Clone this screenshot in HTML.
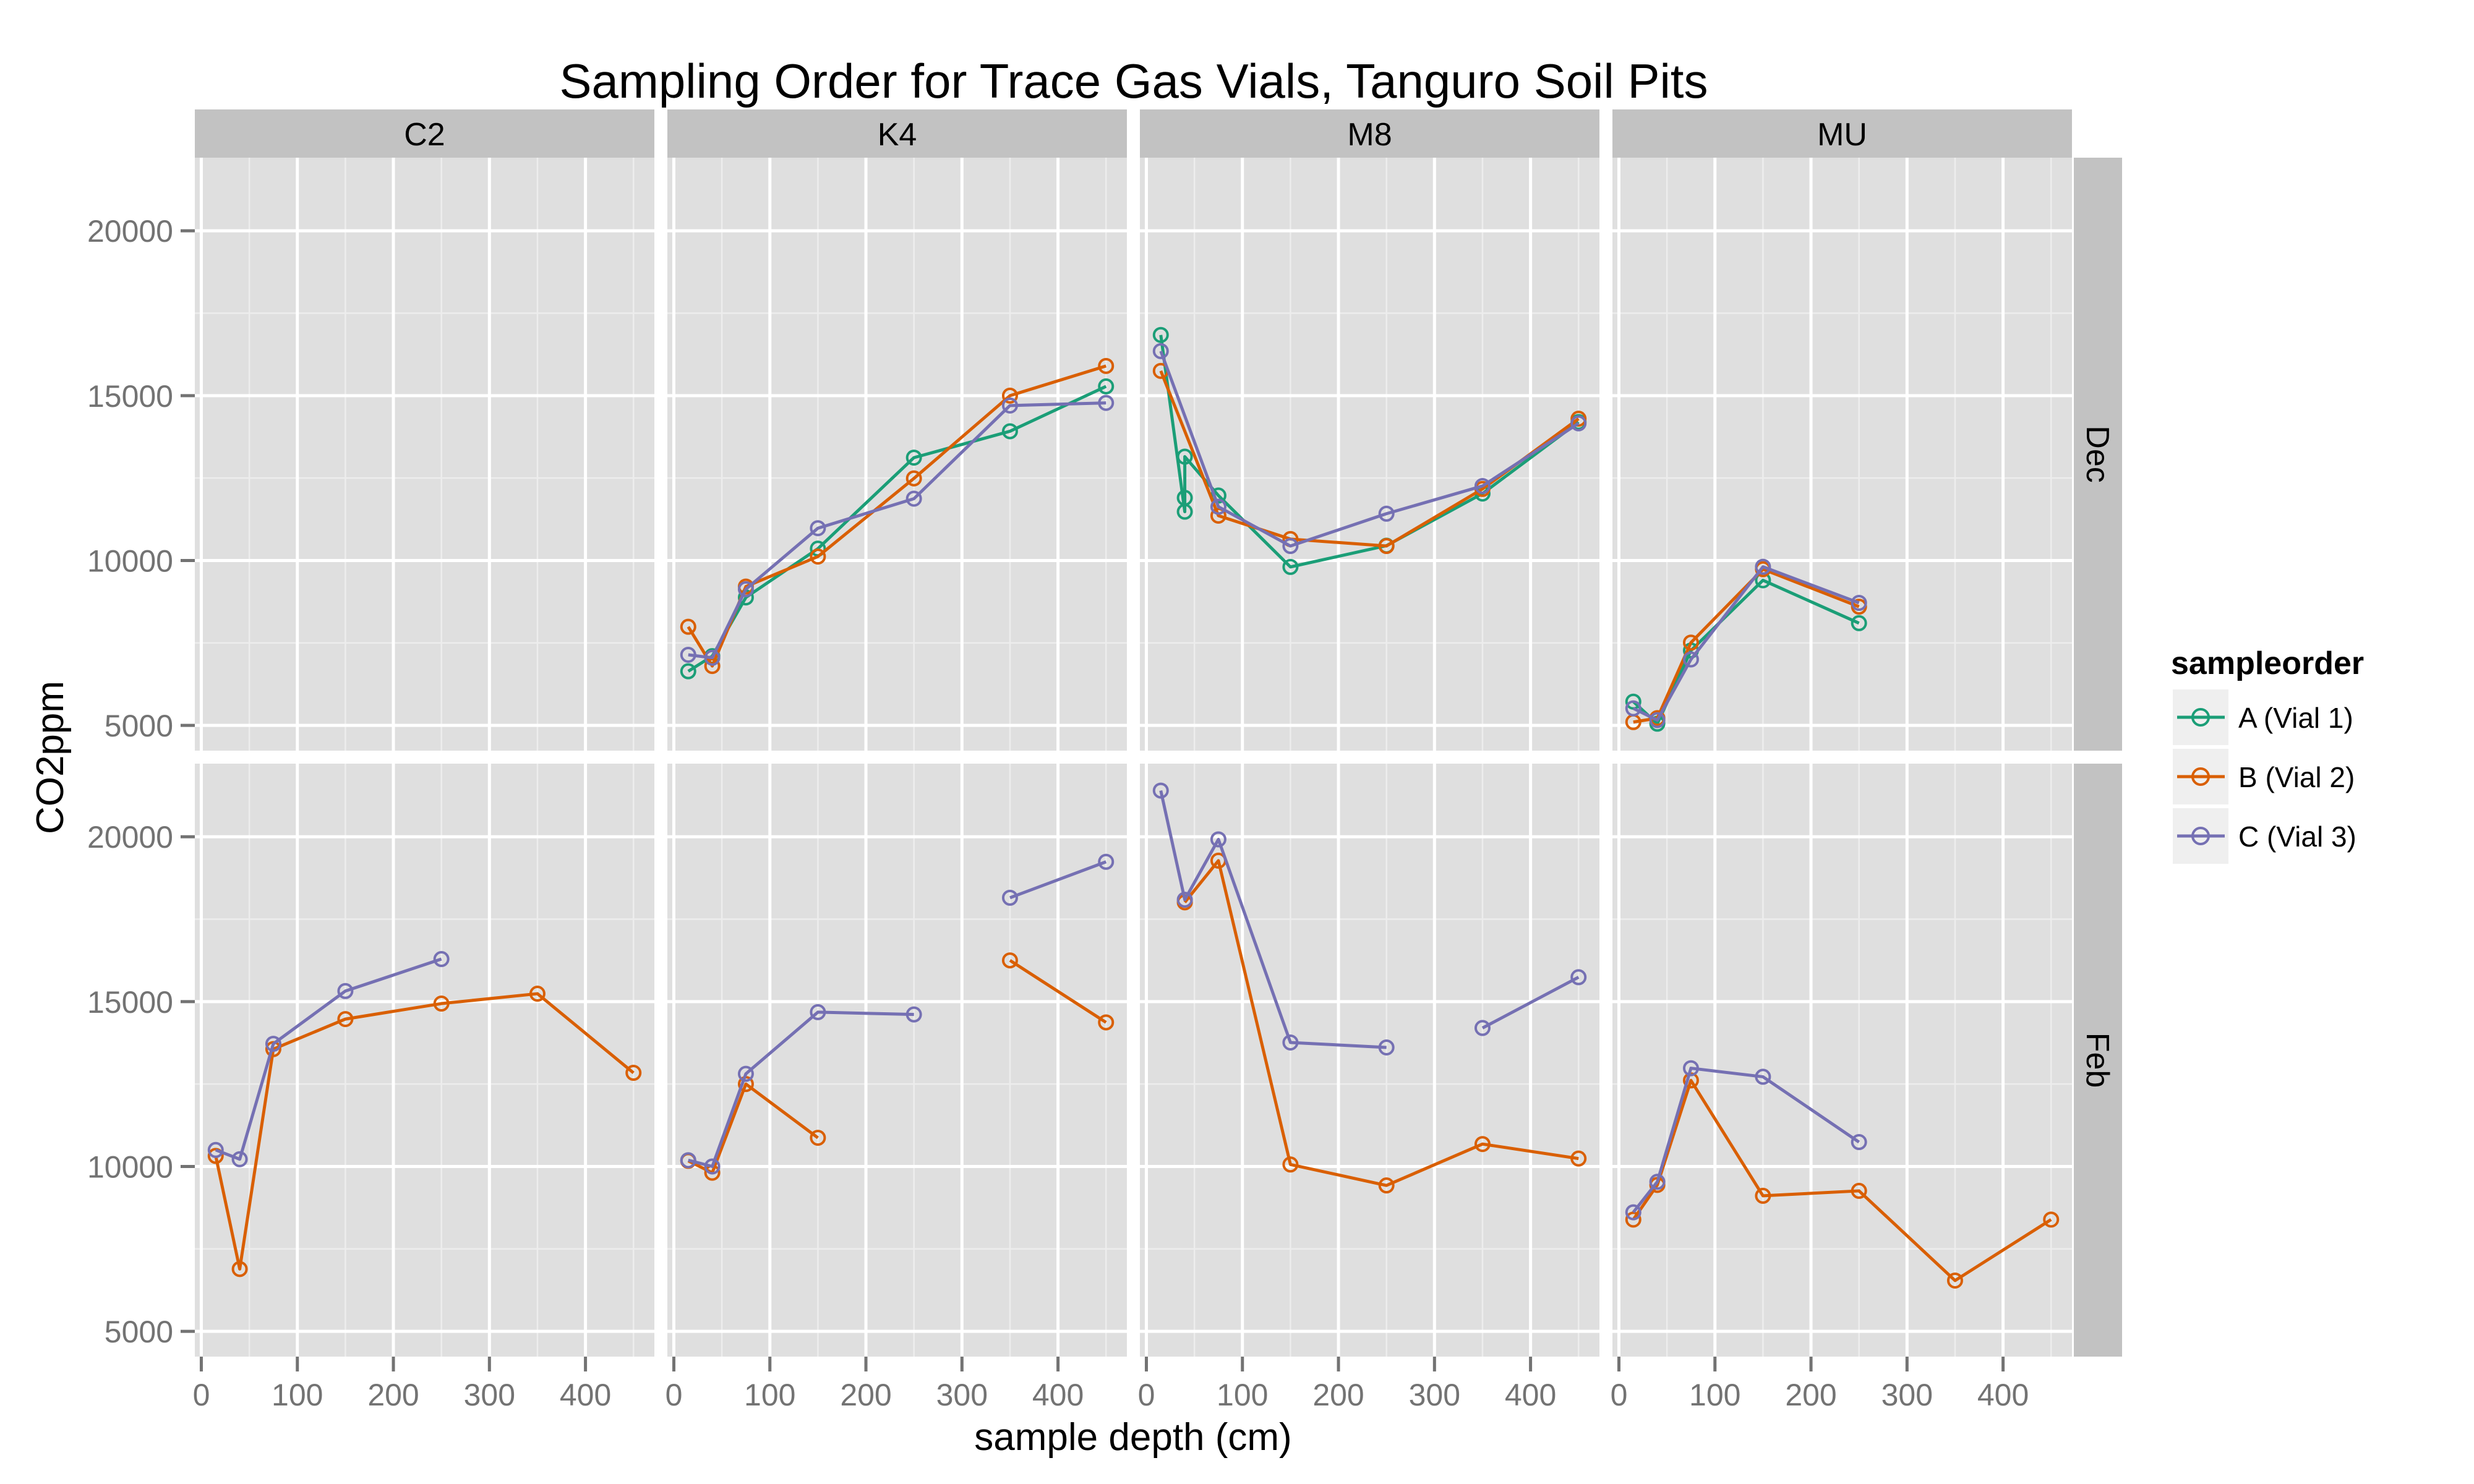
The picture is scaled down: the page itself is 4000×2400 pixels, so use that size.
<!DOCTYPE html>
<html><head><meta charset="utf-8"><style>
html,body{margin:0;padding:0;background:#fff;}
svg{display:block;font-family:"Liberation Sans",Arial,sans-serif;}
</style></head><body>
<svg id="chart" width="4000" height="2400" viewBox="0 0 4000 2400" xmlns="http://www.w3.org/2000/svg">
<text x="1833" y="158" font-size="78" text-anchor="middle" fill="#000">Sampling Order for Trace Gas Vials, Tanguro Soil Pits</text>
<text x="1832" y="2345" font-size="62" text-anchor="middle" fill="#000">sample depth (cm)</text>
<text x="0" y="0" font-size="62" text-anchor="middle" fill="#000" transform="translate(102,1225) rotate(-90)">CO2ppm</text>
<g id="panels"></g>
<g id="legend">
<text x="3510" y="1090" font-size="52" font-weight="bold" fill="#000">sampleorder</text>
</g>
</svg>
<script>
// ---- data ----
const sites = ["C2","K4","M8","MU"];
const months = ["Dec","Feb"];
const xTicks = [0,100,200,300,400];
const yTicks = [5000,10000,15000,20000];
const seriesNames = ["A (Vial 1)","B (Vial 2)","C (Vial 3)"];
const seriesColors = ["#1B9E77","#D95F02","#7570B3"];
// null value = line break
const K4_Dec_A_x = [15,40,75,150,250,350,450];
const K4_Dec_A_y = [6640,7100,8880,10360,13120,13920,15280];
const K4_Dec_B_x = [15,40,75,150,250,350,450];
const K4_Dec_B_y = [7990,6800,9210,10120,12490,15000,15900];
const K4_Dec_C_x = [15,40,75,150,250,350,450];
const K4_Dec_C_y = [7140,7050,9130,10980,11875,14700,14780];
const M8_Dec_A_x = [15,40,40,40,75,150,250,350,450];
const M8_Dec_A_y = [16840,11480,11900,13150,11970,9805,10450,12030,14200];
const M8_Dec_B_x = [15,75,150,250,350,450];
const M8_Dec_B_y = [15750,11360,10650,10440,12170,14300];
const M8_Dec_C_x = [15,75,150,250,350,450];
const M8_Dec_C_y = [16350,11630,10440,11420,12260,14160];
const MU_Dec_A_x = [15,40,75,150,250];
const MU_Dec_A_y = [5720,5050,7270,9400,8100];
const MU_Dec_B_x = [15,40,75,150,250];
const MU_Dec_B_y = [5100,5220,7510,9735,8600];
const MU_Dec_C_x = [15,40,75,150,250];
const MU_Dec_C_y = [5515,5160,7000,9810,8715];
const C2_Feb_B_x = [15,40,75,150,250,350,450];
const C2_Feb_B_y = [10320,6890,13560,14470,14940,15240,12840];
const C2_Feb_C_x = [15,40,75,150,250];
const C2_Feb_C_y = [10500,10220,13720,15320,16290];
const K4_Feb_B_x = [15,40,75,150,250,350,450];
const K4_Feb_B_y = [10170,9810,12500,10870,null,16250,14370];
const K4_Feb_C_x = [15,40,75,150,250,300,350,450];
const K4_Feb_C_y = [10190,10000,12810,14680,14610,null,18150,19240];
const M8_Feb_B_x = [40,75,150,250,350,450];
const M8_Feb_B_y = [18010,19275,10060,9425,10680,10240];
const M8_Feb_C_x = [15,40,75,150,250,300,350,450];
const M8_Feb_C_y = [21400,18090,19920,13760,13610,null,14200,15740];
const MU_Feb_B_x = [15,40,75,150,250,350,450];
const MU_Feb_B_y = [8390,9440,12610,9110,9260,6540,8390];
const MU_Feb_C_x = [15,40,75,150,250];
const MU_Feb_C_y = [8610,9535,12980,12720,10740];
const series = [
 {site:"K4",month:"Dec",s:0,x:K4_Dec_A_x,y:K4_Dec_A_y},
 {site:"K4",month:"Dec",s:1,x:K4_Dec_B_x,y:K4_Dec_B_y},
 {site:"K4",month:"Dec",s:2,x:K4_Dec_C_x,y:K4_Dec_C_y},
 {site:"M8",month:"Dec",s:0,x:M8_Dec_A_x,y:M8_Dec_A_y},
 {site:"M8",month:"Dec",s:1,x:M8_Dec_B_x,y:M8_Dec_B_y},
 {site:"M8",month:"Dec",s:2,x:M8_Dec_C_x,y:M8_Dec_C_y},
 {site:"MU",month:"Dec",s:0,x:MU_Dec_A_x,y:MU_Dec_A_y},
 {site:"MU",month:"Dec",s:1,x:MU_Dec_B_x,y:MU_Dec_B_y},
 {site:"MU",month:"Dec",s:2,x:MU_Dec_C_x,y:MU_Dec_C_y},
 {site:"C2",month:"Feb",s:1,x:C2_Feb_B_x,y:C2_Feb_B_y},
 {site:"C2",month:"Feb",s:2,x:C2_Feb_C_x,y:C2_Feb_C_y},
 {site:"K4",month:"Feb",s:1,x:K4_Feb_B_x,y:K4_Feb_B_y},
 {site:"K4",month:"Feb",s:2,x:K4_Feb_C_x,y:K4_Feb_C_y},
 {site:"M8",month:"Feb",s:1,x:M8_Feb_B_x,y:M8_Feb_B_y},
 {site:"M8",month:"Feb",s:2,x:M8_Feb_C_x,y:M8_Feb_C_y},
 {site:"MU",month:"Feb",s:1,x:MU_Feb_B_x,y:MU_Feb_B_y},
 {site:"MU",month:"Feb",s:2,x:MU_Feb_C_x,y:MU_Feb_C_y}
];
// ---- layout ----
const NS="http://www.w3.org/2000/svg";
const PL=315, PW=743, PSTEP=764;
const PT=[255,1235], PH=959;
const XMIN=-6.75, XMAX=471.75, YMIN=4233, YMAX=22217;
function mk(tag,attrs,parent){const e=document.createElementNS(NS,tag);for(const k in attrs)e.setAttribute(k,attrs[k]);parent.appendChild(e);return e;}
function sx(col,v){return PL+col*PSTEP+(v-XMIN)/(XMAX-XMIN)*PW;}
function sy(row,v){return PT[row]+PH-(v-YMIN)/(YMAX-YMIN)*PH;}
const G=document.getElementById("panels");
sites.forEach((site,c)=>{
  const x0=PL+c*PSTEP;
  const st=mk("rect",{x:x0,y:177,width:PW,height:78,fill:"#C2C2C2"},G);
  
  
  const stt=mk("text",{x:x0+PW/2,y:235,"font-size":52,"text-anchor":"middle",fill:"#000"},G);
  stt.textContent=site;
  
  
  months.forEach((m,r)=>{
    const y0=PT[r];
    const bg=mk("rect",{x:x0,y:y0,width:PW,height:PH,fill:"#DFDFDF"},G);
    
    
    [7500,12500,17500].forEach(v=>{const yy=sy(r,v);if(yy>y0&&yy<y0+PH)mk("line",{x1:x0,x2:x0+PW,y1:yy,y2:yy,stroke:"#EDEDED","stroke-width":2.5},G);});
    [50,150,250,350,450].forEach(v=>{const xx=sx(c,v);mk("line",{x1:xx,x2:xx,y1:y0,y2:y0+PH,stroke:"#EDEDED","stroke-width":2.5},G);});
    yTicks.forEach(v=>{const yy=sy(r,v);const gl=mk("line",{x1:x0,x2:x0+PW,y1:yy,y2:yy,stroke:"#fff","stroke-width":5},G);});
    xTicks.forEach(v=>{const xx=sx(c,v);const gl=mk("line",{x1:xx,x2:xx,y1:y0,y2:y0+PH,stroke:"#fff","stroke-width":5},G);});
    if(c===sites.length-1){
      const rs=mk("rect",{x:x0+PW+3,y:y0,width:78,height:PH,fill:"#C2C2C2"},G);
      
      
      const cx=x0+PW+3+39, cy=y0+PH/2;
      const rt=mk("text",{x:0,y:0,"font-size":52,"text-anchor":"middle",fill:"#000",transform:`translate(${cx-18},${cy}) rotate(90)`},G);
      rt.textContent=m;
      
      
    }
    if(c===0){
      yTicks.forEach(v=>{const yy=sy(r,v);
        mk("line",{x1:292,x2:315,y1:yy,y2:yy,stroke:"#737373","stroke-width":5},G);
        const t=mk("text",{x:280,y:yy+18,"font-size":50,"text-anchor":"end",fill:"#737373"},G);
        t.textContent=v;
        
        });
    }
    if(r===1){
      xTicks.forEach(v=>{const xx=sx(c,v);
        mk("line",{x1:xx,x2:xx,y1:2194,y2:2218,stroke:"#737373","stroke-width":5},G);
        const t=mk("text",{x:xx,y:2273,"font-size":50,"text-anchor":"middle",fill:"#737373"},G);
        t.textContent=v;
        
        });
    }
  });
});
// data marks
series.forEach(se=>{
  const c=sites.indexOf(se.site), r=months.indexOf(se.month), col=seriesColors[se.s];
  let segs=[],cur=[];
  se.x.forEach((xv,i)=>{const yv=se.y[i]; if(yv===null){if(cur.length)segs.push(cur);cur=[];} else cur.push([sx(c,xv),sy(r,yv)]);});
  if(cur.length)segs.push(cur);
  segs.forEach(sg=>{ if(sg.length>1){
    const pl=mk("polyline",{points:sg.map(p=>p.join(",")).join(" "),fill:"none",stroke:col,"stroke-width":5,"stroke-linejoin":"round"},G);
    
    }});
  segs.flat().forEach(p=>{
    const ci=mk("circle",{cx:p[0],cy:p[1],r:11,fill:"none",stroke:col,"stroke-width":4},G);
    
    
  });
});
// legend
const L=document.getElementById("legend");
seriesNames.forEach((n,i)=>{
  const y=1115+i*96;
  const k=mk("rect",{x:3513,y:y,width:90,height:90,fill:"#EFEFEF"},L);
  
  
  mk("line",{x1:3520,x2:3597,y1:y+45,y2:y+45,stroke:seriesColors[i],"stroke-width":5},L);
  mk("circle",{cx:3558,cy:y+45,r:13,fill:"none",stroke:seriesColors[i],"stroke-width":4},L);
  const t=mk("text",{x:3619,y:y+62,"font-size":46,fill:"#000"},L);
  t.textContent=n;
  
  
});
</script>
</body></html>
